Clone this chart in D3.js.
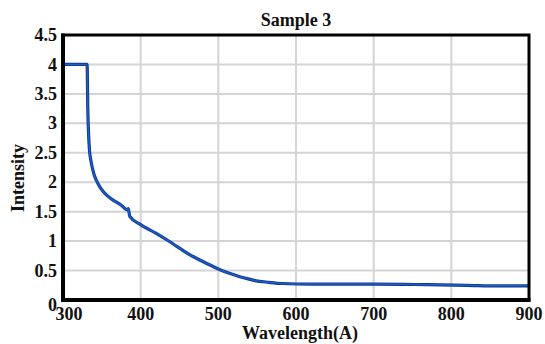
<!DOCTYPE html>
<html>
<head>
<meta charset="utf-8">
<script src="https://cdn.jsdelivr.net/npm/d3@7"></script>
<style>
  html, body { margin: 0; padding: 0; background: #fff; }
  text { font-family: "Liberation Serif", "Times New Roman", serif; font-weight: bold; fill: #111; }
</style>
</head>
<body>
<div id="chart"></div>
<script>
// data
var wavelength = [300, 331, 332, 333, 334, 336, 340, 343, 347, 352, 362, 375, 383, 384, 386,
  400, 420, 435, 450, 463, 476, 490, 503, 520, 535, 547, 565, 582, 620, 700, 770, 820, 860, 900];
var intensity = [4, 4, 3.2, 2.8, 2.56, 2.36, 2.13, 2.03, 1.93, 1.84, 1.72, 1.61, 1.53, 1.55, 1.42,
  1.28, 1.13, 1.01, 0.88, 0.77, 0.68, 0.59, 0.51, 0.43, 0.37, 0.33, 0.3, 0.28, 0.27, 0.27, 0.26, 0.25, 0.24, 0.24];
var xTicks = [300, 400, 500, 600, 700, 800, 900];
var yTicks = [0, 0.5, 1, 1.5, 2, 2.5, 3, 3.5, 4, 4.5];

var width = 545,
  height = 344,
  margin = {top: 35, right: 16, bottom: 44, left: 63};

var svg = d3.select('#chart')
  .append('svg')
  .attr('width', width)
  .attr('height', height);

var x = d3.scaleLinear().domain([300, 900]).range([margin.left, width - margin.right]);
var y = d3.scaleLinear().domain([0, 4.5]).range([height - margin.bottom, margin.top]);

// grid
svg.append('g')
  .selectAll('line')
  .data(xTicks.slice(1, -1))
  .enter().append('line')
  .attr('x1', function(d) { return x(d); })
  .attr('x2', function(d) { return x(d); })
  .attr('y1', y(4.5))
  .attr('y2', y(0))
  .attr('stroke', '#d4d4d4')
  .attr('stroke-width', 2);

svg.append('g')
  .selectAll('line')
  .data(yTicks.slice(1, -1))
  .enter().append('line')
  .attr('x1', x(300))
  .attr('x2', x(900))
  .attr('y1', function(d) { return y(d); })
  .attr('y2', function(d) { return y(d); })
  .attr('stroke', '#d4d4d4')
  .attr('stroke-width', 2);

// curve
var pts = d3.zip(wavelength, intensity);
var line = d3.line()
  .x(function(d) { return x(d[0]); })
  .y(function(d) { return y(d[1]); })
  .curve(d3.curveMonotoneX);

svg.append('path')
  .datum(pts)
  .attr('d', line)
  .attr('fill', 'none')
  .attr('stroke', '#0b3a8f')
  .attr('stroke-width', 3.2);
svg.append('path')
  .datum(pts)
  .attr('d', line)
  .attr('fill', 'none')
  .attr('stroke', '#1f5cc4')
  .attr('stroke-width', 1.5);

// frame
svg.append('rect')
  .attr('x', x(300))
  .attr('y', y(4.5))
  .attr('width', x(900) - x(300))
  .attr('height', y(0) - y(4.5))
  .attr('fill', 'none')
  .attr('stroke', '#000')
  .attr('stroke-width', 3);
svg.append('line')
  .attr('x1', x(300)).attr('x2', x(300))
  .attr('y1', y(4.5) - 1.5).attr('y2', y(0) + 2)
  .attr('stroke', '#000').attr('stroke-width', 4);
svg.append('line')
  .attr('x1', x(300) - 2).attr('x2', x(900) + 1.5)
  .attr('y1', y(0)).attr('y2', y(0))
  .attr('stroke', '#000').attr('stroke-width', 4);

// tick labels
svg.append('g')
  .selectAll('text')
  .data(yTicks)
  .enter().append('text')
  .attr('x', x(300) - 6)
  .attr('y', function(d) { return y(d) + (d === 0 ? 5 : 0); })
  .attr('dy', '0.34em')
  .attr('text-anchor', 'end')
  .attr('font-size', 18)
  .text(function(d) { return d; });

svg.append('g')
  .selectAll('text')
  .data(xTicks)
  .enter().append('text')
  .attr('x', function(d) { return x(d) + (d === 300 ? 6 : 0); })
  .attr('y', 320)
  .attr('text-anchor', 'middle')
  .attr('font-size', 18)
  .text(function(d) { return d; });

// titles
svg.append('text')
  .attr('x', (x(300) + x(900)) / 2)
  .attr('y', 26)
  .attr('text-anchor', 'middle')
  .attr('font-size', 18)
  .text('Sample 3');

svg.append('text')
  .attr('x', (x(300) + x(900)) / 2 + 4)
  .attr('y', 339)
  .attr('text-anchor', 'middle')
  .attr('font-size', 18)
  .text('Wavelength(A)');

svg.append('text')
  .attr('transform', 'translate(24,178) rotate(-90)')
  .attr('text-anchor', 'middle')
  .attr('font-size', 18)
  .text('Intensity');
</script>
</body>
</html>
